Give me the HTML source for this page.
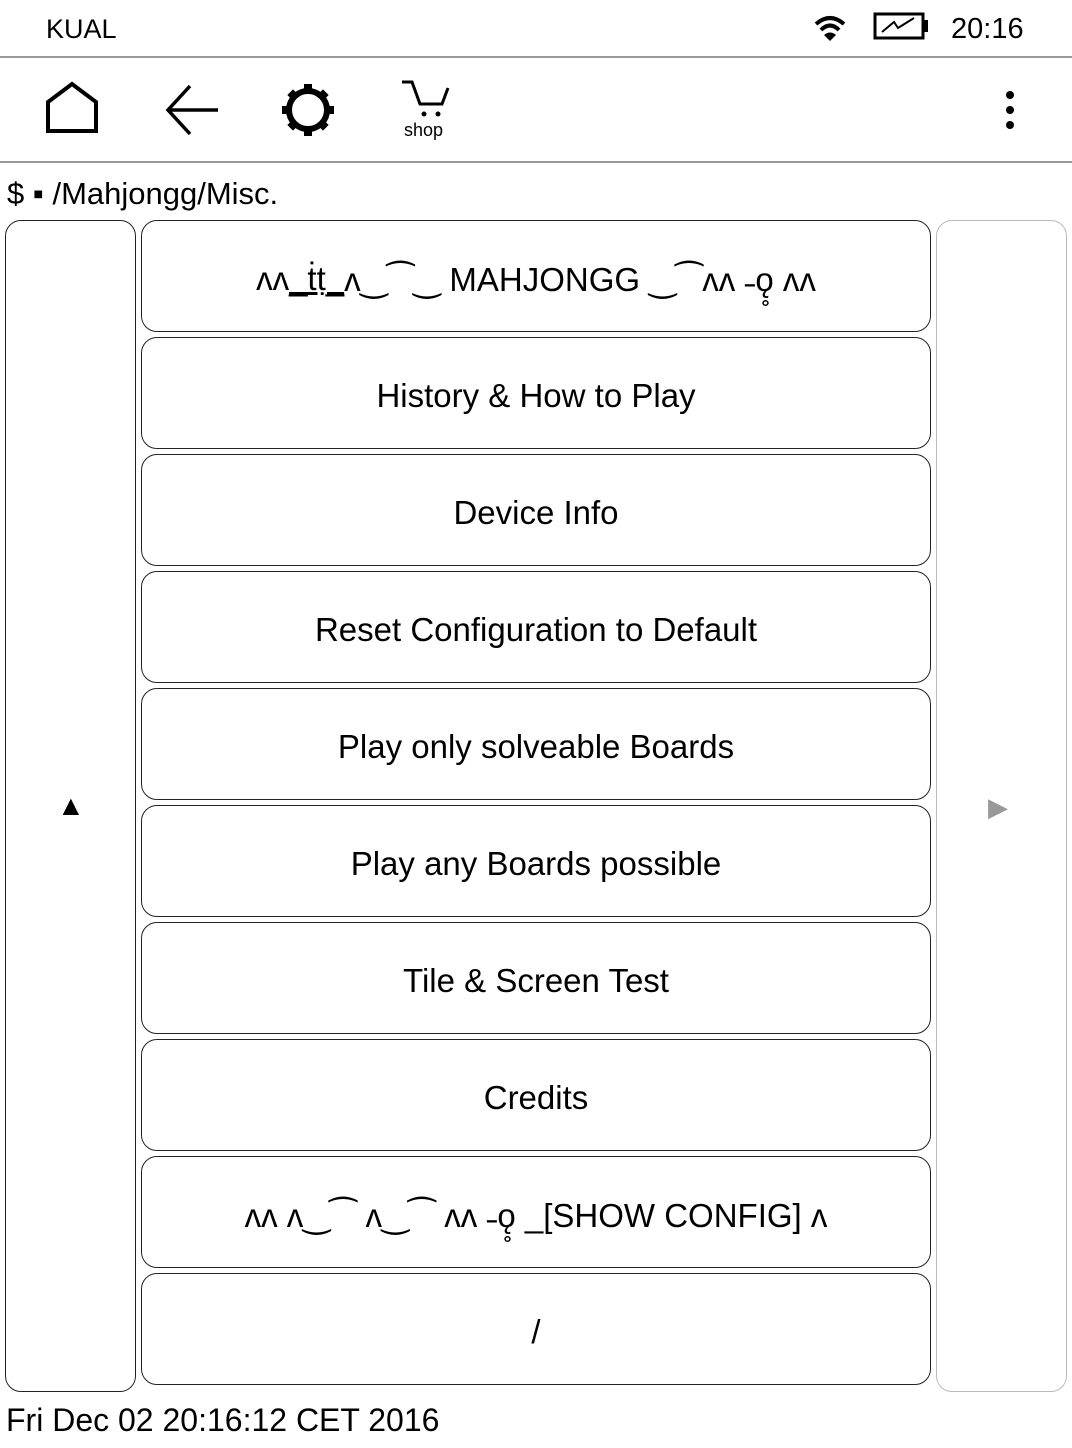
<!DOCTYPE html>
<html><head><meta charset="utf-8"><style>
body{margin:0;width:1072px;height:1448px;background:#fff;position:relative;overflow:hidden;font-family:"Liberation Sans",sans-serif;color:#000}
.a{position:absolute}
.btn{position:absolute;left:141px;width:790px;height:112px;border:1.5px solid #222;border-radius:16px;display:flex;align-items:center;justify-content:center;font-size:33px;box-sizing:border-box;padding-top:6px}
.hr{position:absolute;left:0;width:1072px;height:2px;background:#999}
</style></head><body>
<div class="a" style="left:46px;top:14px;font-size:27px">KUAL</div>
<div class="a" style="left:951px;top:13px;font-size:29px">20:16</div>
<svg class="a" style="left:810px;top:8px" width="120" height="40">
<path d="M6 16 Q20 4 34 16" stroke="#000" stroke-width="4" fill="none"/>
<path d="M11 22 Q20 13 29 22" stroke="#000" stroke-width="4" fill="none"/>
<path d="M20 33 L14 27 Q20 22 26 27Z" fill="#000"/>
<rect x="65" y="6" width="48" height="24" stroke="#000" stroke-width="3" fill="none"/>
<rect x="113" y="12" width="5" height="12" fill="#000"/>
<path d="M72 24 L84 14 L88 20 L104 10" stroke="#000" stroke-width="2" fill="none"/>
</svg>
<div class="hr" style="top:56px"></div>
<svg class="a" style="left:40px;top:78px" width="440" height="70">
<path d="M8 53 V24 L32 6 L56 24 V53 Z" stroke="#000" stroke-width="4" fill="none"/>
<path d="M150 8 L128 32 L150 56 M128 32 H178" stroke="#000" stroke-width="3.5" fill="none"/>
<circle cx="268" cy="32" r="19" stroke="#000" stroke-width="6" fill="none"/>
<g fill="#000"><rect x="264" y="6" width="8" height="9"/><rect x="264" y="49" width="8" height="9"/><rect x="242" y="28" width="9" height="8"/><rect x="285" y="28" width="9" height="8"/>
<rect x="249" y="13" width="8" height="8" transform="rotate(45 253 17)"/><rect x="279" y="13" width="8" height="8" transform="rotate(45 283 17)"/><rect x="249" y="43" width="8" height="8" transform="rotate(45 253 47)"/><rect x="279" y="43" width="8" height="8" transform="rotate(45 283 47)"/></g>
<path d="M362 4 H372 L380 26 H402 L408 10" stroke="#000" stroke-width="3" fill="none"/>
<circle cx="384" cy="36" r="2.5"/><circle cx="398" cy="36" r="2.5"/>
</svg>
<div class="a" style="left:404px;top:120px;font-size:18px">shop</div>
<svg class="a" style="left:1000px;top:90px" width="20" height="40"><circle cx="10" cy="5" r="4"/><circle cx="10" cy="20" r="4"/><circle cx="10" cy="35" r="4"/></svg>
<div class="hr" style="top:161px"></div>
<div class="a" style="left:7px;top:176px;font-size:31px">$ ▪ /Mahjongg/Misc.</div>
<div class="a" style="left:5px;top:220px;width:131px;height:1172px;border:1.5px solid #222;border-radius:16px;box-sizing:border-box"></div>
<div class="a" style="left:936px;top:220px;width:131px;height:1172px;border:1.5px solid #bbb;border-radius:16px;box-sizing:border-box"></div>
<div class="a" style="left:57px;top:790px;font-size:28px">▲</div>
<div class="a" style="left:988px;top:792px;font-size:26px;color:#999">▶</div>
<div class="btn" style="top:220px">ʌʌ <u>_ṫṭ_</u> ʌ‿⁀‿ MAHJONGG ‿⁀ʌʌ ˗ǫ̥ ʌʌ</div>
<div class="btn" style="top:337px">History &amp; How to Play</div>
<div class="btn" style="top:454px">Device Info</div>
<div class="btn" style="top:571px">Reset Configuration to Default</div>
<div class="btn" style="top:688px">Play only solveable Boards</div>
<div class="btn" style="top:805px">Play any Boards possible</div>
<div class="btn" style="top:922px">Tile &amp; Screen Test</div>
<div class="btn" style="top:1039px">Credits</div>
<div class="btn" style="top:1156px">ʌʌ ʌ‿⁀ ʌ‿⁀ ʌʌ ˗ǫ̥ _[SHOW CONFIG] ʌ</div>
<div class="btn" style="top:1273px">/</div>
<div class="a" style="left:6px;top:1402px;font-size:32px">Fri Dec 02 20:16:12 CET 2016</div>
</body></html>
